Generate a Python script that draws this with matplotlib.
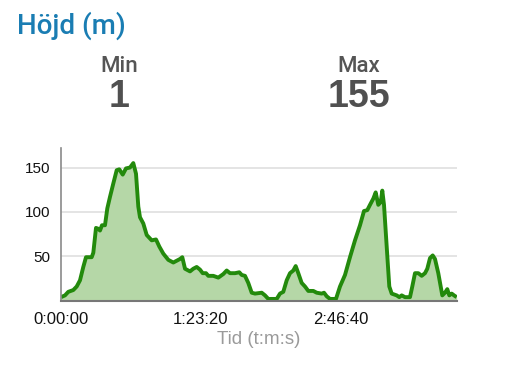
import matplotlib
matplotlib.use("Agg")
import matplotlib.pyplot as plt
from matplotlib.ticker import FuncFormatter, FixedLocator

plt.rcParams['font.family'] = ['Liberation Sans', 'DejaVu Sans']

# time in seconds, elevation in metres
time_s = [0, 143, 261, 439, 561, 679, 796, 893, 1096, 1154, 1250, 1332, 1393, 1464,
          1571, 1654, 1750, 1868, 1989, 2082, 2204, 2321, 2464, 2582, 2679, 2761,
          2821, 2939, 3061, 3239, 3393, 3511, 3654, 3832, 4011, 4250, 4332, 4429,
          4607, 4725, 4846, 4964, 5061, 5179, 5261, 5439, 5618, 5796, 5918, 6036,
          6214, 6368, 6454, 6571, 6689, 6811, 6929, 7168, 7286, 7404, 7704, 7821,
          7939, 8061, 8179, 8296, 8382, 8475, 8596, 8714, 8832, 9011, 9132, 9311,
          9393, 9489, 9607, 9821, 9964, 10143, 10321, 10500, 10679, 10821, 10939,
          11036, 11154, 11239, 11332, 11418, 11475, 11536, 11632, 11725, 11811,
          11989, 12082, 12168, 12286, 12464, 12546, 12643, 12761, 12882, 13000,
          13082, 13179, 13275, 13357, 13475, 13618, 13714, 13796, 13868, 13954,
          14036, 14132]
elev_m = [4, 6, 10, 12, 16, 23, 38, 49, 49, 54, 82, 81, 79, 85,
          85, 104, 117, 132, 147, 148, 142, 149, 150, 155, 143, 106,
          94, 87, 74, 68, 69, 61, 53, 46, 43, 47, 49, 36,
          33, 36, 38, 35, 31, 31, 28, 28, 26, 30, 34, 31,
          31, 32, 29, 28, 20, 9, 8, 9, 6, 2, 2, 8,
          10, 23, 31, 34, 39, 31, 20, 16, 11, 11, 9, 8,
          9, 5, 2, 2, 16, 29, 49, 68, 85, 101, 102,
          108, 115, 122, 108, 111, 124, 108, 61, 16, 8,
          6, 4, 6, 4, 4, 16, 31, 31, 28, 31,
          36, 48, 51, 47, 31, 6, 9, 13, 6, 8,
          6, 4]

x_ticks = [0, 5000, 10000]
y_ticks = [50, 100, 150]
title = "Höjd (m)"
xlabel = "Tid (t:m:s)"
stat_labels = ["Min", "Max"]
stat_values = ["1", "155"]

fig = plt.figure(figsize=(5.12, 3.72), dpi=100)
ax = fig.add_axes([61/512, 1-300.7/372, (457-61)/512, (300.7-148)/372])

line_c = '#238a0c'
ax.fill_between(time_s, 0, elev_m, color='#b5d7a7', lw=0)
ax.plot(time_s, elev_m, color=line_c, lw=2.8, solid_joinstyle='round',
        solid_capstyle='butt', clip_on=True)

ax.set_xlim(0, 14143)
ax.set_ylim(0, 172)
ax.xaxis.set_major_locator(FixedLocator(x_ticks))
ax.yaxis.set_major_locator(FixedLocator(y_ticks))

def hms(v, pos):
    v = int(round(v))
    return f"{v//3600}:{(v%3600)//60:02d}:{v%60:02d}"

ax.xaxis.set_major_formatter(FuncFormatter(hms))
ax.tick_params(axis='x', length=0, pad=8, labelsize=12, colors='#111111')
ax.tick_params(axis='y', length=0, pad=8, labelsize=11, colors='#111111')
ax.grid(axis='y', color='#e2e2e2', lw=1.3)
ax.set_axisbelow(True)
for s in ['top', 'right']:
    ax.spines[s].set_visible(False)
ax.spines['left'].set_color('#8a8a8a')
ax.spines['left'].set_linewidth(1.2)
ax.spines['bottom'].set_color('#777777')
ax.spines['bottom'].set_linewidth(1.5)
ax.set_zorder(1)

fig.text(259/512, 1-339/372, xlabel, ha='center', va='center', fontsize=13.5, color='#9a9a9a')
fig.text(17/512, 1-26/372, title, ha='left', va='center', fontsize=20, color='#1a7db3',
         family=['Roboto', 'Liberation Sans'], fontweight='medium')
for cx, lab, val in zip([119, 359], stat_labels, stat_values):
    fig.text(cx/512, 1-66/372, lab, ha='center', va='center', fontsize=16, color='#555555',
             family=['Roboto', 'Liberation Sans'], fontweight='medium')
    fig.text(cx/512, 1-97/372, val, ha='center', va='center', fontsize=27,
             fontweight='bold', color='#505050')

fig.savefig('out.png', dpi=100)
